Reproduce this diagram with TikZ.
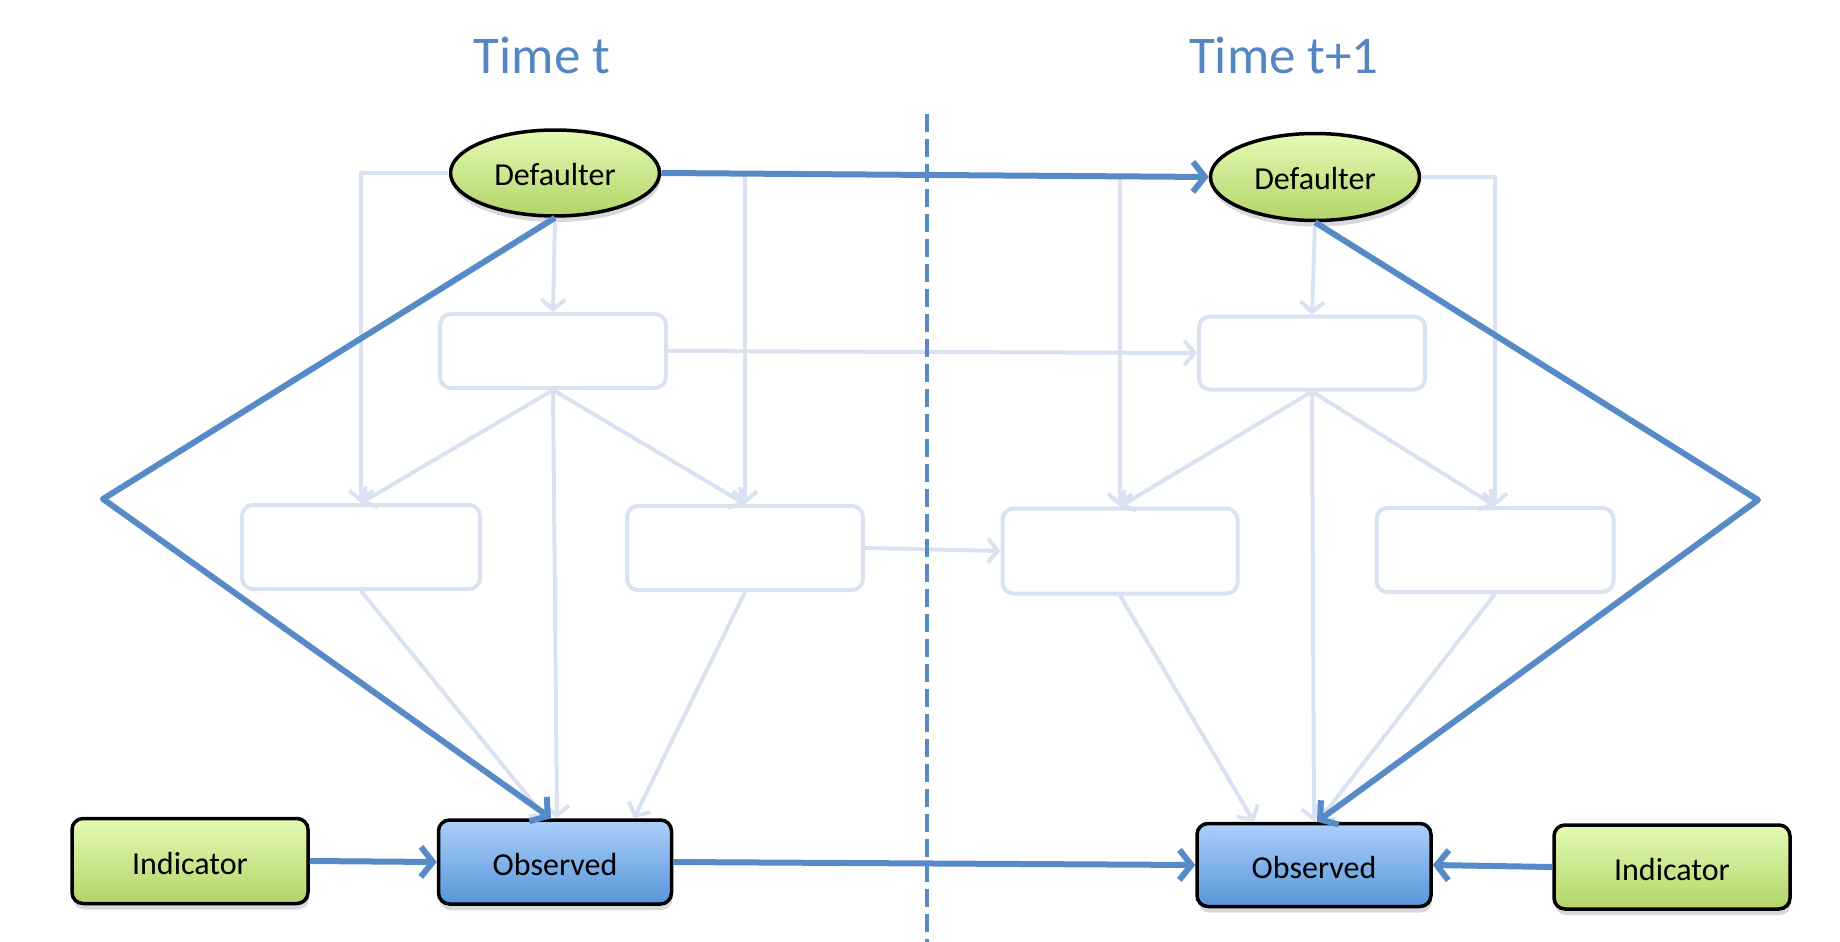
\documentclass[tikz,border=0pt]{standalone}
\usepackage{fontspec}
\setmainfont{Carlito}
\usetikzlibrary{arrows.meta,shapes.geometric,shadows,calc}
\definecolor{lineblue}{RGB}{86,139,199}
\definecolor{faint}{RGB}{216,226,240}
\definecolor{titleblue}{RGB}{84,134,194}
\definecolor{gtop}{RGB}{228,251,180}
\definecolor{gbot}{RGB}{178,212,104}
\definecolor{btop}{RGB}{172,207,251}
\definecolor{bbot}{RGB}{86,150,216}
\newcommand{\lowtext}[2]{\raisebox{-#1}[0pt][0pt]{#2}}
\tikzset{
  mainfont/.style={font=\fontsize{32}{38}\selectfont},
  dshadow/.style={drop shadow={opacity=0.3,shadow xshift=1pt,shadow yshift=-6pt}},
  defnode/.style={ellipse,draw=black,line width=3.5pt,top color=gtop,bottom color=gbot,
    minimum width=209pt,minimum height=86pt,inner sep=0pt,mainfont,dshadow},
  indnode/.style={rectangle,rounded corners=11pt,draw=black,line width=3.5pt,top color=gtop,bottom color=gbot,
    minimum width=236pt,minimum height=85pt,inner sep=0pt,mainfont,dshadow},
  obsnode/.style={rectangle,rounded corners=11pt,draw=black,line width=3.5pt,top color=btop,bottom color=bbot,
    minimum width=234pt,minimum height=84pt,inner sep=0pt,mainfont,dshadow},
  ghost/.style={rectangle,rounded corners=11pt,draw=faint,line width=4pt,fill=white,inner sep=0pt},
  thick line/.style={draw=lineblue,line width=6pt},
  thick arrow/.style={thick line,-{Straight Barb[length=12pt,width=30pt]}},
  faint line/.style={draw=faint,line width=4pt},
  faint arrow/.style={faint line,-{Straight Barb[length=10pt,width=24pt]}},
  title/.style={text=titleblue,font=\fontsize{53}{60}\selectfont,anchor=base},
  separator/.style={draw=lineblue,line width=4pt,dash pattern=on 18pt off 7pt}
}
\begin{document}
\begin{tikzpicture}[x=1pt,y=-1pt]
\useasboundingbox (0,0) rectangle (1840,942);
% titles
\node[title] (t1) at (542,74) {Time t};
\node[title] (t2) at (1284,74) {Time t+1};
% ghost boxes
\node[ghost,minimum width=226pt,minimum height=74pt] (u1) at (553,351) {};
\node[ghost,minimum width=238pt,minimum height=84pt] (m1) at (361,547) {};
\node[ghost,minimum width=236pt,minimum height=84pt] (m2) at (745,548) {};
\node[ghost,minimum width=226pt,minimum height=73pt] (u2) at (1312,353) {};
\node[ghost,minimum width=235pt,minimum height=85pt] (m3) at (1120,551) {};
\node[ghost,minimum width=237pt,minimum height=84pt] (m4) at (1495,550) {};
% main nodes
\node[defnode] (d1) at (555,173) {\lowtext{12pt}{Defaulter}};
\node[defnode,minimum height=87pt] (d2) at (1315,177) {\lowtext{12pt}{Defaulter}};
\node[obsnode,minimum width=233pt] (o1) at (555,862) {\lowtext{13pt}{Observed}};
\node[obsnode,minimum height=83pt] (o2) at (1314,865) {\lowtext{13pt}{Observed}};
\node[indnode] (i1) at (190,861) {\lowtext{13pt}{Indicator}};
\node[indnode,minimum height=84pt] (i2) at (1672,867) {\lowtext{13pt}{Indicator}};
\coordinate (cL) at (103,499);
\coordinate (cR) at (1758,500);
% faint connectors, left
\draw[faint arrow] (d1.south) -- (u1.north);
\draw[faint arrow] (d1.west) -| (m1.north);
\draw[faint arrow] (d1.east) -| (m2.north);
\draw[faint arrow] (u1.south) -- (m1.north);
\draw[faint arrow] (u1.south) -- (m2.north);
\draw[faint arrow] (u1.south) -- ([xshift=2pt]o1.north);
\draw[faint arrow] (m1.south) -- ([xshift=-9pt]o1.north);
\draw[faint arrow] (m2.south) -- ([xshift=79pt]o1.north);
\draw[faint arrow] (u1.east) -- (u2.west);
\draw[faint arrow] (m2.east) -- (m3.west);
% faint connectors, right
\draw[faint arrow] (d2.south) -- (u2.north);
\draw[faint arrow] (d2.west) -| (m3.north);
\draw[faint arrow] (d2.east) -| (m4.north);
\draw[faint arrow] (u2.south) -- (m3.north);
\draw[faint arrow] (u2.south) -- (m4.north);
\draw[faint arrow] (u2.south) -- (o2.north);
\draw[faint arrow] (m3.south) -- ([xshift=-60pt]o2.north);
\draw[faint arrow] (m4.south) -- ([xshift=4pt]o2.north);
% dashed separator
\coordinate (sepTop) at (927,114);
\coordinate (sepBot) at (927,942);
\draw[separator] (sepTop) -- (sepBot);
% thick connectors
\draw[thick arrow] (d1.east) -- (d2.west);
\draw[thick arrow,line join=round] (d1.south) -- (cL) -- ([xshift=-4pt]o1.north);
\draw[thick arrow,line join=round] (d2.south) -- (cR) -- ([xshift=3pt]o2.north);
\draw[thick arrow] (i1.east) -- (o1.west);
\draw[thick arrow] (i2.west) -- (o2.east);
\draw[thick arrow] (o1.east) -- (o2.west);
\end{tikzpicture}
\end{document}
